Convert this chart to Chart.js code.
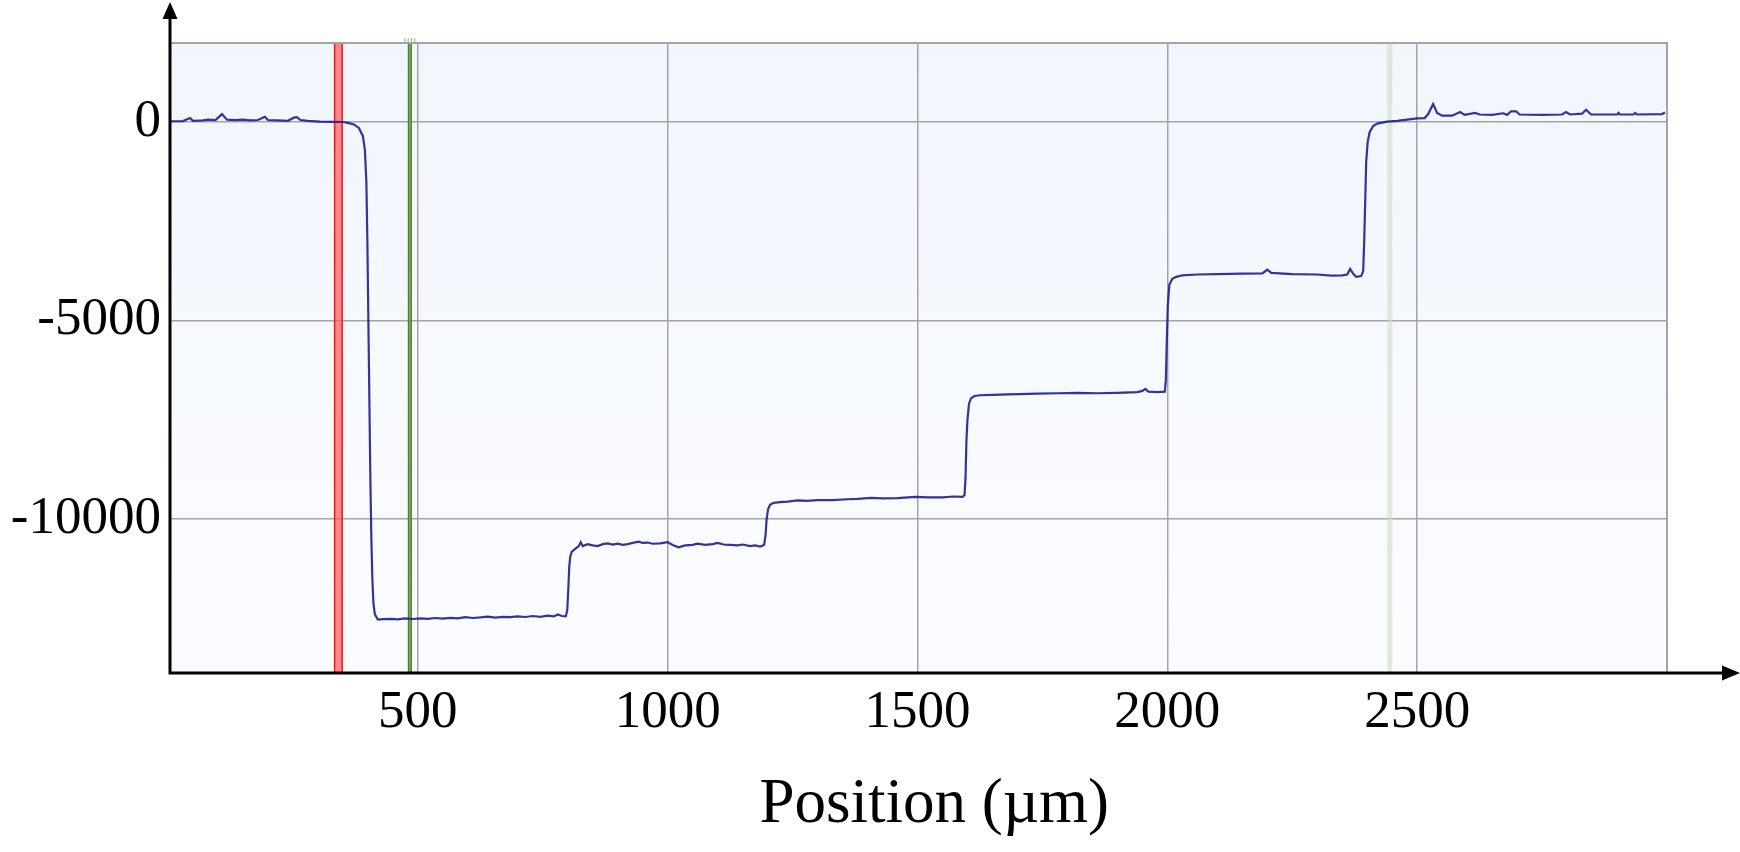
<!DOCTYPE html>
<html>
<head>
<meta charset="utf-8">
<script src="https://cdn.jsdelivr.net/npm/chart.js@4.4.1/dist/chart.umd.min.js"></script>
<style>
  html, body { margin: 0; padding: 0; background: #ffffff; }
  #wrap { width: 1740px; height: 852px; }
</style>
</head>
<body>
<div id="wrap"><canvas id="c" width="1740" height="852"></canvas></div>
<script>
// ---- data (position in µm, height) ----
const positions = [
  4, 30, 44, 50, 70, 80, 95, 108, 118, 135, 150, 165, 180, 194, 200, 220, 240, 252, 258, 265, 280, 304, 330, 350,
  360, 372, 382, 390, 394, 397, 399, 401, 403, 405, 407, 409, 411, 414, 420,
  430, 445, 460, 475, 490, 505, 520, 535, 550, 565, 580, 595, 610, 625, 640, 655, 670, 685, 700, 715, 730, 745, 760, 772, 780, 788, 796,
  799, 801, 803, 805, 808, 815, 822, 826,
  830, 840, 850, 860, 870, 880, 890, 900, 910, 920, 930, 942, 950, 960, 970, 985, 1000, 1010, 1022, 1035, 1050, 1060, 1075, 1090, 1100, 1112, 1125, 1140, 1150, 1165, 1175, 1185, 1193,
  1196, 1198, 1201, 1205, 1212, 1225,
  1240, 1260, 1280, 1300, 1330, 1360, 1380, 1408, 1430, 1460, 1496, 1520, 1550, 1572, 1590,
  1594, 1596, 1598, 1600, 1603, 1607, 1614, 1625,
  1650, 1680, 1704, 1740, 1780, 1820, 1860, 1900, 1940, 1950, 1956, 1962, 1980, 1995,
  1997, 1999, 2001, 2004, 2010, 2018, 2030,
  2060, 2100, 2150, 2190, 2200, 2208, 2250, 2300, 2328, 2350, 2360, 2366, 2372, 2378, 2388,
  2392, 2394, 2396, 2398, 2401, 2405, 2412, 2420, 2440, 2460, 2480, 2500,
  2515, 2522, 2532, 2540, 2550, 2570, 2586, 2595, 2616, 2625, 2650, 2672, 2680, 2688, 2698, 2705,
  2750, 2790, 2798, 2806, 2830, 2838, 2848, 2900, 2903, 2906, 2933, 2936, 2940, 2990, 2996
];
const heights = [
  20, 25, 100, 30, 40, 60, 50, 200, 60, 50, 60, 40, 50, 130, 50, 40, 30, 110, 120, 50, 30, 10, 5, 0,
  -20, -60, -150, -350, -700, -1500, -3000, -5000, -7000, -9000, -10500, -11500, -12100, -12400, -12530,
  -12520, -12510, -12525, -12500, -12515, -12500, -12510, -12490, -12505, -12485, -12500, -12470, -12490, -12475, -12455, -12480, -12460, -12470, -12450, -12465, -12440, -12460, -12430, -12450, -12400, -12440, -12450,
  -12300, -11800, -11200, -10950, -10820, -10750, -10680, -10580,
  -10680, -10630, -10660, -10680, -10630, -10610, -10640, -10620, -10650, -10630, -10600, -10570, -10600, -10590, -10620, -10610, -10580, -10650, -10710, -10660, -10650, -10620, -10650, -10630, -10600, -10640, -10650, -10660, -10640, -10680, -10660, -10690, -10650,
  -10400, -10000, -9750, -9640, -9590, -9570,
  -9560, -9530, -9540, -9520, -9520, -9500, -9490, -9465, -9480, -9470, -9440, -9450, -9450, -9430, -9440,
  -9400, -9000, -8000, -7500, -7100, -6960, -6900, -6880,
  -6870, -6860, -6850, -6840, -6830, -6820, -6830, -6820, -6800, -6770, -6720, -6790, -6800, -6790,
  -6500, -5500, -4600, -4100, -3950, -3900, -3860,
  -3840, -3830, -3820, -3810, -3720, -3800, -3830, -3840, -3870, -3860, -3840, -3700, -3820, -3900, -3880,
  -3750, -3000, -2000, -1000, -500, -250, -100, -40, 10, 30, 60, 90,
  100, 200, 450, 230, 160, 160, 250, 180, 230, 190, 180, 220, 180, 270, 270, 190,
  180, 190, 250, 190, 210, 310, 190, 190, 230, 190, 190, 230, 190, 200, 240
];
const xTickValues = [500, 1000, 1500, 2000, 2500];
const yTickValues = [0, -5000, -10000];
const xRange = [4, 3000];
const yRange = [-13850, 1990];
const redCursor = [332, 350];
const greenCursor = [480, 488];
const faintCursor = [2440, 2450];
const xTitle = 'Position (µm)';

const points = positions.map((p, i) => ({ x: p, y: heights[i] }));
const serif = '"Liberation Serif", "DejaVu Serif", serif';

const decor = {
  id: 'decor',
  beforeDraw(chart) {
    const { ctx, chartArea: a } = chart;
    const g = ctx.createLinearGradient(0, a.top, 0, a.bottom);
    g.addColorStop(0, '#f1f6fd');
    g.addColorStop(1, '#fbfcff');
    ctx.save();
    ctx.fillStyle = g;
    ctx.fillRect(a.left, a.top, a.right - a.left, a.bottom - a.top);
    ctx.restore();
  },
  beforeDatasetsDraw(chart) {
    const { ctx, chartArea: a, scales: { x } } = chart;
    ctx.save();
    // faint cursor
    let x0 = x.getPixelForValue(faintCursor[0]), x1 = x.getPixelForValue(faintCursor[1]);
    ctx.fillStyle = 'rgba(200,222,190,0.55)';
    ctx.fillRect(x0, a.top, x1 - x0, a.bottom - a.top);
    // red cursor
    x0 = x.getPixelForValue(redCursor[0]); x1 = x.getPixelForValue(redCursor[1]);
    ctx.fillStyle = 'rgba(255,90,90,0.7)';
    ctx.fillRect(x0, a.top, x1 - x0, a.bottom - a.top);
    ctx.strokeStyle = 'rgba(255,0,0,0.85)';
    ctx.lineWidth = 1.5;
    ctx.beginPath();
    ctx.moveTo(x0 + 0.75, a.top); ctx.lineTo(x0 + 0.75, a.bottom);
    ctx.moveTo(x1 - 0.75, a.top); ctx.lineTo(x1 - 0.75, a.bottom);
    ctx.stroke();
    // green cursor
    x0 = x.getPixelForValue(greenCursor[0]); x1 = x.getPixelForValue(greenCursor[1]);
    ctx.fillStyle = 'rgba(150,190,120,0.9)';
    ctx.fillRect(x0, a.top, x1 - x0, a.bottom - a.top);
    ctx.strokeStyle = 'rgba(70,120,40,0.95)';
    ctx.lineWidth = 1.5;
    ctx.beginPath();
    ctx.moveTo(x0 + 0.75, a.top); ctx.lineTo(x0 + 0.75, a.bottom);
    ctx.moveTo(x1 - 0.75, a.top); ctx.lineTo(x1 - 0.75, a.bottom);
    ctx.stroke();
    // small marks above the plot
    ctx.strokeStyle = 'rgba(120,170,90,0.8)';
    ctx.lineWidth = 1;
    ctx.beginPath();
    for (let k = 0; k < 4; k++) {
      const xx = x0 - 3 + k * ((x1 - x0 + 6) / 3);
      ctx.moveTo(xx, a.top - 5); ctx.lineTo(xx, a.top);
    }
    ctx.moveTo(x0 - 3, a.top - 0.5); ctx.lineTo(x1 + 3, a.top - 0.5);
    ctx.stroke();
    ctx.restore();
  },
  afterDraw(chart) {
    const { ctx, chartArea: a } = chart;
    ctx.save();
    // top & right frame
    ctx.strokeStyle = '#a4a4a4';
    ctx.lineWidth = 2;
    ctx.beginPath();
    ctx.moveTo(a.left, a.top); ctx.lineTo(a.right, a.top); ctx.lineTo(a.right, a.bottom);
    ctx.stroke();
    // black axes
    ctx.strokeStyle = '#000';
    ctx.fillStyle = '#000';
    ctx.lineWidth = 3;
    ctx.beginPath();
    ctx.moveTo(a.left, a.bottom + 1.5); ctx.lineTo(a.left, 12);
    ctx.moveTo(a.left - 1.5, a.bottom + 1); ctx.lineTo(1728, a.bottom + 1);
    ctx.stroke();
    // arrowheads
    ctx.beginPath();
    ctx.moveTo(a.left, 2); ctx.lineTo(a.left - 7.5, 19); ctx.lineTo(a.left + 7.5, 19); ctx.closePath();
    ctx.fill();
    ctx.beginPath();
    ctx.moveTo(1740, a.bottom + 1); ctx.lineTo(1722, a.bottom + 1 - 7.5); ctx.lineTo(1722, a.bottom + 1 + 7.5); ctx.closePath();
    ctx.fill();
    ctx.restore();
  }
};

new Chart(document.getElementById('c'), {
  type: 'line',
  data: {
    datasets: [{
      data: points,
      borderColor: 'rgba(30,30,140,0.9)',
      borderWidth: 2.2,
      pointRadius: 0,
      tension: 0,
      fill: false
    }]
  },
  options: {
    responsive: false,
    animation: false,
    plugins: { legend: { display: false }, tooltip: { enabled: false } },
    layout: { padding: { top: 43, right: 73, left: 0, bottom: 0 } },
    scales: {
      x: {
        type: 'linear',
        min: xRange[0], max: xRange[1],
        afterBuildTicks: s => { s.ticks = xTickValues.map(v => ({ value: v })); },
        afterFit: s => { s.height = 180; },
        grid: { color: '#a4a4a4', lineWidth: 1.5, drawTicks: false },
        border: { display: false },
        ticks: {
          padding: 9, maxRotation: 0, autoSkip: false,
          color: '#000',
          font: { family: serif, size: 53 },
          callback: v => String(v)
        },
        title: {
          display: true, text: '\u2002' + xTitle, color: '#000',
          font: { family: serif, size: 63 },
          padding: { top: 0, bottom: 9 }
        }
      },
      y: {
        type: 'linear',
        min: yRange[0], max: yRange[1],
        afterBuildTicks: s => { s.ticks = yTickValues.map(v => ({ value: v })); },
        afterFit: s => { s.width = 170; },
        grid: { color: '#a4a4a4', lineWidth: 1.5, drawTicks: false },
        border: { display: false },
        ticks: {
          padding: 9, autoSkip: false,
          color: '#000',
          font: { family: serif, size: 53 },
          callback: v => String(v)
        }
      }
    }
  },
  plugins: [decor]
});
</script>
</body>
</html>
